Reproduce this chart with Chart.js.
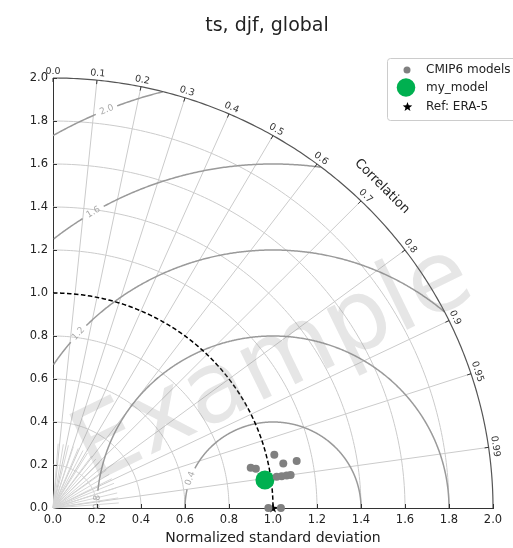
<!DOCTYPE html>
<html>
<head>
<meta charset="utf-8">
<script src="https://cdn.jsdelivr.net/npm/chart.js@4"></script>
<style>
  body { margin: 0; background: #fff; }
  canvas { display: block; }
</style>
</head>
<body>
<canvas id="taylor" width="513" height="548"></canvas>
<script>
const cmipStd  = [1.036, 1.067, 1.129, 0.918, 0.940, 1.027, 1.050, 1.073, 1.091, 0.979, 1.036];
const cmipCorr = [0.971, 0.981, 0.981, 0.979, 0.981, 0.990, 0.990, 0.990, 0.990, 1.0, 1.0];
const myStd  = [0.972];
const myCorr = [0.991];
const refStd  = [1.0];
const refCorr = [1.0];

const seriesLabels = ['CMIP6 models', 'my_model', 'Ref: ERA-5'];
const stdTicks  = [0.2, 0.4, 0.6, 0.8, 1.0, 1.2, 1.4, 1.6, 1.8, 2.0];
const stdGrid   = [0.2, 0.4, 0.6, 0.8, 1.2, 1.4, 1.6, 1.8];
const corrTicks = [0.0, 0.1, 0.2, 0.3, 0.4, 0.5, 0.6, 0.7, 0.8, 0.9, 0.95, 0.99];
const corrTickLabels = ['0.0', '0.1', '0.2', '0.3', '0.4', '0.5', '0.6', '0.7', '0.8', '0.9', '0.95', '0.99'];
const rmsLevels = [0.4, 0.8, 1.2, 1.6, 2.0];
const rmsLabels = ['0.4', '0.8', '1.2', '1.6', '2.0'];
const rmsLabelAngles = [160, 178, 137.5, 120.7, 112.2]; // graus, posicao do rotulo no arco
const titleText = 'ts, djf, global';
const xTitle = 'Normalized standard deviation';
const maxStd = 2.0;

const FONT = "'DejaVu Sans', sans-serif";

const toXY = (s, c) => ({ x: s * c, y: s * Math.sqrt(Math.max(0, 1 - c * c)) });

function starPath(g, cx, cy, R, r) {
    g.beginPath();
    for (let i = 0; i < 10; i++) {
        const a = -Math.PI / 2 + i * Math.PI / 5;
        const rr = i % 2 === 0 ? R : r;
        const px = cx + rr * Math.cos(a), py = cy + rr * Math.sin(a);
        if (i === 0) g.moveTo(px, py); else g.lineTo(px, py);
    }
    g.closePath();
}

function makeStar(R) {
    const c = document.createElement('canvas');
    const s = Math.ceil(R * 2) + 2;
    c.width = c.height = s;
    const g = c.getContext('2d');
    g.fillStyle = '#000';
    starPath(g, s / 2, s / 2 + 0.5, R, R * 0.42);
    g.fill();
    return c;
}
const starImg = makeStar(5);

// grade do diagrama de Taylor
const taylorGrid = {
    id: 'taylorGrid',
    beforeDatasetsDraw(chart) {
        const { ctx, scales: { x, y } } = chart;
        const P = (dx, dy) => [x.getPixelForValue(dx), y.getPixelForValue(dy)];
        const polar = (r, th) => P(r * Math.cos(th), r * Math.sin(th));

        ctx.save();
        ctx.lineCap = 'butt';

        // arcos de desvio padrao
        ctx.strokeStyle = '#cbcbcb';
        ctx.lineWidth = 1;
        stdGrid.forEach(r => {
            ctx.beginPath();
            for (let i = 0; i <= 120; i++) {
                const [px, py] = polar(r, i / 120 * Math.PI / 2);
                if (i === 0) ctx.moveTo(px, py); else ctx.lineTo(px, py);
            }
            ctx.stroke();
        });

        // linhas radiais de correlacao
        corrTicks.forEach(c => {
            if (c === 0) return;
            const th = Math.acos(c);
            const [x0, y0] = polar(0, th);
            const [x1, y1] = polar(maxStd, th);
            ctx.beginPath(); ctx.moveTo(x0, y0); ctx.lineTo(x1, y1); ctx.stroke();
        });
        // leque curto junto a origem
        ctx.strokeStyle = '#d6d6d6';
        for (let d = 4.5; d < 90; d += 4.5) {
            const th = d * Math.PI / 180;
            const [x0, y0] = polar(0, th);
            const [x1, y1] = polar(0.3, th);
            ctx.beginPath(); ctx.moveTo(x0, y0); ctx.lineTo(x1, y1); ctx.stroke();
        }

        // contornos de RMSD centrados na referencia
        ctx.strokeStyle = '#9a9a9a';
        ctx.lineWidth = 1.5;
        rmsLevels.forEach((R, k) => {
            const la = rmsLabelAngles[k] * Math.PI / 180;
            const [lx, ly] = P(1 + R * Math.cos(la), R * Math.sin(la));
            let open = false;
            ctx.beginPath();
            for (let i = 0; i <= 720; i++) {
                const phi = i / 720 * Math.PI;
                const dx = 1 + R * Math.cos(phi), dy = R * Math.sin(phi);
                const [px, py] = P(dx, dy);
                const inside = dx >= 0 && dx * dx + dy * dy <= maxStd * maxStd + 1e-6;
                const gap = Math.hypot(px - lx, py - ly) < 11;
                if (inside && !gap) {
                    if (!open) { ctx.moveTo(px, py); open = true; } else ctx.lineTo(px, py);
                } else open = false;
            }
            ctx.stroke();
        });
        ctx.fillStyle = '#ababab';
        ctx.font = '9px ' + FONT;
        ctx.textAlign = 'center';
        ctx.textBaseline = 'middle';
        rmsLevels.forEach((R, k) => {
            const la = rmsLabelAngles[k] * Math.PI / 180;
            const [lx, ly] = P(1 + R * Math.cos(la), R * Math.sin(la));
            ctx.save();
            ctx.translate(lx, ly);
            ctx.rotate((90 - rmsLabelAngles[k]) * Math.PI / 180);
            ctx.fillText(rmsLabels[k], 0, 0);
            ctx.restore();
        });

        // arco externo
        ctx.strokeStyle = '#555';
        ctx.lineWidth = 1.2;
        ctx.beginPath();
        for (let i = 0; i <= 200; i++) {
            const [px, py] = polar(maxStd, i / 200 * Math.PI / 2);
            if (i === 0) ctx.moveTo(px, py); else ctx.lineTo(px, py);
        }
        ctx.stroke();

        // arco tracejado do desvio de referencia
        ctx.strokeStyle = '#000';
        ctx.lineWidth = 1.5;
        ctx.setLineDash([4.5, 2.5]);
        ctx.beginPath();
        for (let i = 0; i <= 120; i++) {
            const [px, py] = polar(refStd[0], Math.PI / 2 - i / 120 * Math.PI / 2);
            if (i === 0) ctx.moveTo(px, py); else ctx.lineTo(px, py);
        }
        ctx.stroke();
        ctx.setLineDash([]);

        // marcas para dentro nos eixos
        ctx.strokeStyle = '#333';
        ctx.lineWidth = 1;
        stdTicks.forEach(v => {
            const px = Math.round(x.getPixelForValue(v)) + 0.5;
            ctx.beginPath(); ctx.moveTo(px, y.bottom); ctx.lineTo(px, y.bottom - 4); ctx.stroke();
            const py = Math.round(y.getPixelForValue(v)) + 0.5;
            ctx.beginPath(); ctx.moveTo(x.left, py); ctx.lineTo(x.left + 4, py); ctx.stroke();
        });

        // marcas e rotulos de correlacao
        ctx.fillStyle = '#333';
        ctx.font = '9.5px ' + FONT;
        ctx.textAlign = 'center';
        ctx.textBaseline = 'bottom';
        corrTicks.forEach((c, k) => {
            const th = Math.acos(c);
            const [ox, oy] = polar(maxStd, th);
            const ux = Math.cos(th), uy = -Math.sin(th);
            ctx.beginPath(); ctx.moveTo(ox, oy); ctx.lineTo(ox - 4 * ux, oy - 4 * uy); ctx.stroke();
            ctx.save();
            ctx.translate(ox + 2 * ux, oy + 2 * uy);
            ctx.rotate(Math.PI / 2 - th);
            ctx.fillText(corrTickLabels[k], 0, 0);
            ctx.restore();
        });
        const [cx, cy] = polar(2.115, Math.PI / 4);
        ctx.save();
        ctx.translate(cx, cy);
        ctx.rotate(Math.PI / 4);
        ctx.font = '13px ' + FONT;
        ctx.fillStyle = '#222';
        ctx.textBaseline = 'middle';
        ctx.fillText('Correlation', 0, 0);
        ctx.restore();

        ctx.restore();
    },
    afterDraw(chart) {
        const { ctx, scales: { x } } = chart;
        ctx.save();

        // marca d'agua
        ctx.translate(274, 366);
        ctx.rotate(-26 * Math.PI / 180);
        ctx.font = '99px ' + FONT;
        ctx.fillStyle = 'rgba(128,128,128,0.2)';
        ctx.textAlign = 'center';
        ctx.textBaseline = 'middle';
        ctx.fillText('Example', 0, 0);
        ctx.setTransform(1, 0, 0, 1, 0, 0);

        // titulos
        ctx.fillStyle = '#222';
        ctx.textAlign = 'center';
        ctx.textBaseline = 'alphabetic';
        ctx.font = '19px ' + FONT;
        ctx.fillText(titleText, 267, 31);
        ctx.font = '14px ' + FONT;
        ctx.fillText(xTitle, (x.left + x.right) / 2, 542);

        // legenda
        ctx.fillStyle = 'rgba(255,255,255,0.85)';
        ctx.strokeStyle = '#cccccc';
        ctx.lineWidth = 1;
        ctx.beginPath();
        ctx.roundRect(387.5, 58.5, 132, 62, 3);
        ctx.fill();
        ctx.stroke();

        ctx.fillStyle = 'grey';
        ctx.beginPath(); ctx.arc(407, 70, 3.5, 0, Math.PI * 2); ctx.fill();
        ctx.fillStyle = '#00b050';
        ctx.beginPath(); ctx.arc(406, 87.5, 9.3, 0, Math.PI * 2); ctx.fill();
        ctx.fillStyle = '#000';
        starPath(ctx, 407.5, 107, 5, 2.1);
        ctx.fill();

        ctx.fillStyle = '#222';
        ctx.font = '12px ' + FONT;
        ctx.textAlign = 'left';
        ctx.textBaseline = 'middle';
        ctx.fillText(seriesLabels[0], 426, 70);
        ctx.fillText(seriesLabels[1], 426, 88);
        ctx.fillText(seriesLabels[2], 426, 107);

        ctx.restore();
    }
};

const axisCommon = {
    type: 'linear',
    min: 0,
    max: maxStd,
    grid: { display: false, drawTicks: false },
    border: { display: true, color: '#333', width: 1 },
    ticks: {
        stepSize: 0.2,
        autoSkip: false,
        maxRotation: 0,
        padding: 5,
        color: '#222',
        font: { family: FONT, size: 11.5 },
        callback: v => Number(v).toFixed(1)
    }
};

new Chart(document.getElementById('taylor'), {
    type: 'scatter',
    data: {
        datasets: [
            {
                label: seriesLabels[0],
                data: cmipStd.map((s, i) => toXY(s, cmipCorr[i])),
                backgroundColor: 'grey',
                borderWidth: 0,
                pointRadius: 4,
                clip: false
            },
            {
                label: seriesLabels[1],
                data: myStd.map((s, i) => toXY(s, myCorr[i])),
                backgroundColor: '#00b050',
                borderWidth: 0,
                pointRadius: 9.5,
                clip: false
            },
            {
                label: seriesLabels[2],
                data: refStd.map((s, i) => toXY(s, refCorr[i])),
                pointStyle: starImg,
                clip: false
            }
        ]
    },
    options: {
        responsive: false,
        animation: false,
        devicePixelRatio: 1,
        layout: { padding: { top: 78, right: 20, bottom: 0, left: 0 } },
        plugins: {
            legend: { display: false },
            title: { display: false },
            tooltip: { enabled: false }
        },
        scales: {
            x: { ...axisCommon, afterFit: s => { s.height = 40; } },
            y: { ...axisCommon, afterFit: s => { s.width = 53; } }
        }
    },
    plugins: [taylorGrid]
});
</script>
</body>
</html>
